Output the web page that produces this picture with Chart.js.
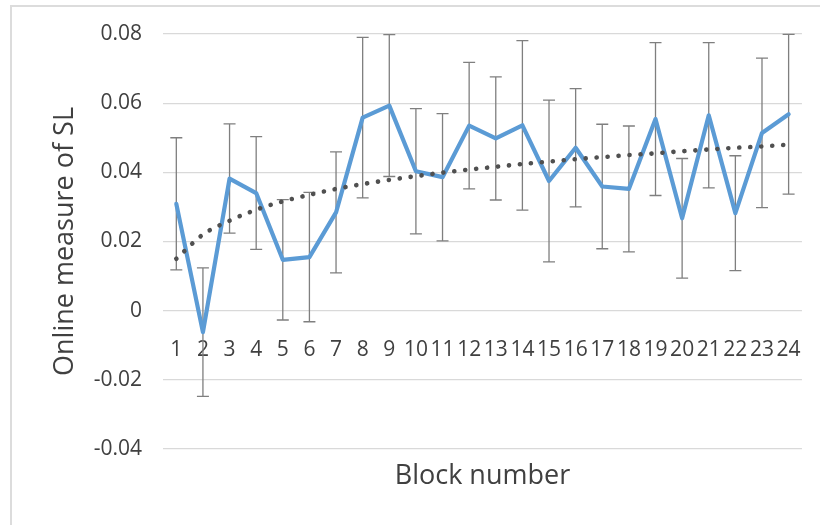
<!DOCTYPE html>
<html>
<head>
<meta charset="utf-8">
<script src="https://cdn.jsdelivr.net/npm/chart.js@4"></script>
<style>
  html, body { margin: 0; padding: 0; background: #ffffff; }
  .frame {
    position: absolute;
    left: 10px;
    top: 5px;
    right: 0;
    bottom: 0;
    border-top: 2px solid #dcdcdc;
    border-left: 2px solid #dcdcdc;
  }
  .chart-wrap {
    position: absolute;
    left: 0;
    top: 0;
    width: 820px;
    height: 525px;
  }
</style>
</head>
<body>
<div class="frame"></div>
<div class="chart-wrap"><canvas id="slChart"></canvas></div>
<script>
const blocks = ["1", "2", "3", "4", "5", "6", "7", "8", "9", "10", "11", "12",
  "13", "14", "15", "16", "17", "18", "19", "20", "21", "22", "23", "24"];

// mean online SL per block
const slMeans = [0.0309, -0.0062, 0.0382, 0.0340, 0.0147, 0.0155, 0.0284, 0.0558,
  0.0593, 0.0403, 0.0386, 0.0535, 0.0498, 0.0536, 0.0375, 0.0471,
  0.0359, 0.0352, 0.0554, 0.0267, 0.0565, 0.0282, 0.0514, 0.0568];

// +/- error per block
const slErrors = [0.0191, 0.0186, 0.0158, 0.0163, 0.0174, 0.0187, 0.0175, 0.0232,
  0.0205, 0.0181, 0.0184, 0.0183, 0.0178, 0.0245, 0.0234, 0.0171,
  0.0180, 0.0182, 0.0221, 0.0173, 0.0210, 0.0166, 0.0216, 0.0231];

// dotted trend line
const trendValues = [0.0150, 0.0220, 0.0260, 0.0292, 0.0316, 0.0335, 0.0352, 0.0366,
  0.0378, 0.0389, 0.0399, 0.0408, 0.0416, 0.0424, 0.0431, 0.0438,
  0.0444, 0.0450, 0.0455, 0.0461, 0.0466, 0.0471, 0.0475, 0.0480];

const yTicks = { min: -0.04, max: 0.08, step: 0.02 };

const textColor = "#404040";
const fontFamily = "'Open Sans', 'Noto Sans', sans-serif";

const errorBarsPlugin = {
  id: "errorBars",
  beforeDatasetsDraw(chart) {
    const { ctx, scales } = chart;
    const xScale = scales.x;
    const yScale = scales.y;
    const capHalf = 6;

    ctx.save();
    ctx.strokeStyle = "#7f7f7f";
    ctx.lineWidth = 1.3;
    slMeans.forEach((value, i) => {
      const x = xScale.getPixelForValue(i);
      const top = yScale.getPixelForValue(value + slErrors[i]);
      const bottom = yScale.getPixelForValue(value - slErrors[i]);
      ctx.beginPath();
      ctx.moveTo(x, top);
      ctx.lineTo(x, bottom);
      ctx.moveTo(x - capHalf, top);
      ctx.lineTo(x + capHalf, top);
      ctx.moveTo(x - capHalf, bottom);
      ctx.lineTo(x + capHalf, bottom);
      ctx.stroke();
    });
    ctx.restore();
  }
};

function formatTick(value) {
  const rounded = Math.round(value * 100) / 100;
  if (rounded === 0) return "0";
  return rounded.toFixed(2);
}

function buildChart() {
  const ctx = document.getElementById("slChart");

  return new Chart(ctx, {
    type: "line",
    data: {
      labels: blocks,
      datasets: [
        {
          label: "Trend",
          data: trendValues,
          borderColor: "#505050",
          borderWidth: 4.6,
          borderDash: [0.1, 10.9],
          borderCapStyle: "round",
          cubicInterpolationMode: "monotone",
          pointRadius: 0,
          fill: false,
          order: 0
        },
        {
          label: "Online measure of SL",
          data: slMeans,
          borderColor: "#5b9bd5",
          borderWidth: 4.2,
          borderJoinStyle: "round",
          borderCapStyle: "round",
          tension: 0,
          pointRadius: 0,
          fill: false,
          order: 1
        }
      ]
    },
    options: {
      responsive: true,
      maintainAspectRatio: false,
      animation: false,
      layout: {
        padding: { left: 0, right: 16, top: 34, bottom: 32 }
      },
      plugins: {
        legend: { display: false },
        tooltip: { enabled: false }
      },
      scales: {
        x: {
          position: { y: 0 },
          offset: true,
          grid: { display: false },
          border: { display: false },
          ticks: {
            autoSkip: false,
            maxRotation: 0,
            padding: 19,
            color: textColor,
            font: { family: fontFamily, size: 21 }
          },
          afterFit(scale) {
            scale.height = 0;
          }
        },
        x2: {
          position: "bottom",
          offset: true,
          grid: { display: false },
          border: { display: false },
          ticks: { display: false },
          title: {
            display: true,
            text: "Block number",
            color: textColor,
            padding: { top: 11, bottom: 0 },
            font: { family: fontFamily, size: 27 }
          },
          afterFit(scale) {
            scale.height = 44;
          }
        },
        y: {
          min: yTicks.min,
          max: yTicks.max,
          grid: {
            color: "#d9d9d9",
            lineWidth: 1.2,
            drawTicks: false
          },
          border: { display: false },
          ticks: {
            stepSize: yTicks.step,
            padding: 21,
            color: textColor,
            font: { family: fontFamily, size: 21 },
            callback: (value) => formatTick(value)
          },
          title: {
            display: true,
            text: "Online measure of SL",
            color: textColor,
            padding: { top: 49, bottom: 0 },
            font: { family: fontFamily, size: 27 }
          },
          afterFit(scale) {
            scale.width = 163;
          }
        }
      }
    },
    plugins: [errorBarsPlugin]
  });
}

window.addEventListener("DOMContentLoaded", () => {
  buildChart();
});
</script>
</body>
</html>
